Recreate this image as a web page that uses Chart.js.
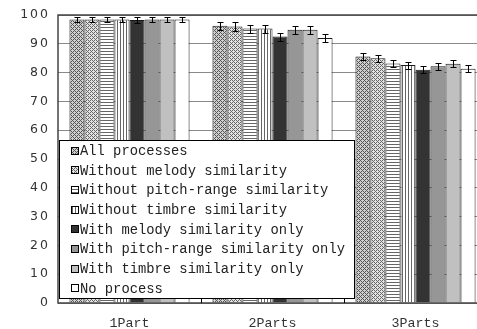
<!DOCTYPE html>
<html>
<head>
<meta charset="utf-8">
<script src="https://cdn.jsdelivr.net/npm/chart.js@4"></script>
<style>
  html, body { margin: 0; padding: 0; background: #fff; overflow: hidden; width: 477px; height: 329px; }
  #wrap { width: 487px; height: 329px; }
  canvas { display: block; }
</style>
</head>
<body>
<div id="wrap"><canvas id="chart" width="487" height="329"></canvas></div>
<script>
// data
const categories = ['1Part', '2Parts', '3Parts'];
const seriesNames = [
  'All processes',
  'Without melody similarity',
  'Without pitch-range similarity',
  'Without timbre similarity',
  'With melody similarity only',
  'With pitch-range similarity only',
  'With timbre similarity only',
  'No process'
];
const allProcesses      = [98.4, 96.3, 85.6];
const withoutMelody     = [98.4, 96.0, 85.0];
const withoutPitchRange = [98.4, 95.3, 83.2];
const withoutTimbre     = [98.4, 95.3, 82.6];
const melodyOnly        = [98.3, 92.5, 81.0];
const pitchRangeOnly    = [98.4, 94.9, 82.2];
const timbreOnly        = [98.4, 94.9, 83.1];
const noProcess         = [98.4, 92.0, 81.3];
const errorMargins      = [1.0, 1.4, 1.2]; // per category
const yTicks = [0, 10, 20, 30, 40, 50, 60, 70, 80, 90, 100];

const seriesValues = [allProcesses, withoutMelody, withoutPitchRange, withoutTimbre,
                      melodyOnly, pitchRangeOnly, timbreOnly, noProcess];

// fill patterns, like the old office chart hatches
function makePattern(kind) {
  const c = document.createElement('canvas');
  const g = c.getContext('2d');
  let s = 4;
  if (kind === 'horiz' || kind === 'vert') s = 3;
  c.width = s; c.height = s;
  g.fillStyle = '#fff';
  g.fillRect(0, 0, s, s);
  if (kind === 'cross') {
    g.fillStyle = '#d0d0d0'; g.fillRect(0, 0, s, s);
    g.fillStyle = '#555';
    for (let x = 0; x < s; x++) for (let y = 0; y < s; y++) {
      if ((x + y) % 4 === 0 || (x - y + 4) % 4 === 0) g.fillRect(x, y, 1, 1);
    }
  } else if (kind === 'diag') {
    g.fillStyle = '#e4e4e4'; g.fillRect(0, 0, s, s);
    g.fillStyle = '#666';
    for (let x = 0; x < s; x++) for (let y = 0; y < s; y++) {
      if ((x - y + 8) % 4 === 0 || (x - y + 8) % 4 === 2 && y % 2 === 0) g.fillRect(x, y, 1, 1);
    }
  } else if (kind === 'horiz') {
    g.fillStyle = '#666'; g.fillRect(0, 0, s, 1);
  } else if (kind === 'vert') {
    g.fillStyle = '#666'; g.fillRect(0, 0, 1, s);
  }
  return g.createPattern(c, 'repeat');
}

const fills = [
  makePattern('cross'),
  makePattern('diag'),
  makePattern('horiz'),
  makePattern('vert'),
  '#333333',
  '#969696',
  '#c0c0c0',
  '#ffffff'
];

const extras = {
  id: 'extras',
  afterDatasetsDraw(chart) {
    const ctx = chart.ctx;
    const area = chart.chartArea;
    const xs = chart.scales.x, ys = chart.scales.y;
    ctx.save();

    // error bars
    ctx.strokeStyle = '#000';
    ctx.lineWidth = 1;
    chart.data.datasets.forEach((ds, di) => {
      const meta = chart.getDatasetMeta(di);
      meta.data.forEach((bar, i) => {
        const v = ds.data[i], e = errorMargins[i];
        const x = Math.round(bar.x) + 0.5;
        const y1 = Math.round(ys.getPixelForValue(v + e)) + 0.5;
        const y2 = Math.round(ys.getPixelForValue(v - e)) + 0.5;
        ctx.beginPath();
        ctx.moveTo(x, y1); ctx.lineTo(x, y2);
        ctx.moveTo(x - 3, y1); ctx.lineTo(x + 3, y1);
        ctx.moveTo(x - 3, y2); ctx.lineTo(x + 3, y2);
        ctx.stroke();
      });
    });

    // frame
    ctx.strokeStyle = '#444';
    ctx.lineWidth = 1.5;
    ctx.strokeRect(area.left, area.top, area.right - area.left, area.bottom - area.top);

    // category boundary ticks (pointing up)
    ctx.lineWidth = 1;
    ctx.strokeStyle = '#000';
    const half = (xs.getPixelForValue(1) - xs.getPixelForValue(0)) / 2;
    for (let i = 0; i < categories.length - 1; i++) {
      const bx = Math.round(xs.getPixelForValue(i) + half) + 0.5;
      ctx.beginPath();
      ctx.moveTo(bx, area.bottom); ctx.lineTo(bx, area.bottom - 4);
      ctx.stroke();
    }

    // legend box inside the plot
    const lx = area.left + 1, ly = 140, lw = 295, lh = 158;
    ctx.fillStyle = '#fff';
    ctx.fillRect(lx, ly, lw, lh);
    ctx.strokeStyle = '#000';
    ctx.lineWidth = 1;
    ctx.strokeRect(lx + 0.5, ly + 0.5, lw, lh);
    ctx.font = "13.8px 'Liberation Mono'";
    ctx.textBaseline = 'middle';
    ctx.textAlign = 'left';
    seriesNames.forEach((name, i) => {
      const cy = 150.5 + i * 19.67;
      const bx = lx + 12, by = Math.round(cy - 4);
      ctx.fillStyle = fills[i];
      ctx.fillRect(bx, by, 8, 8);
      ctx.strokeStyle = '#000';
      ctx.strokeRect(bx + 0.5, by + 0.5, 7, 7);
      ctx.fillStyle = '#222';
      ctx.fillText(name, lx + 21, cy + 1);
    });

    ctx.restore();
  },
  afterDraw(chart) {
    // y tick labels, spaced out like the original
    const ctx = chart.ctx;
    const ys = chart.scales.y;
    ctx.save();
    ctx.font = "12.5px 'DejaVu Sans'";
    ctx.letterSpacing = '2px';
    ctx.fillStyle = '#333';
    ctx.textAlign = 'right';
    ctx.textBaseline = 'middle';
    ys.ticks.forEach(t => {
      ctx.fillText(String(t.value), 50, ys.getPixelForValue(t.value));
    });
    ctx.restore();
  }
};

new Chart(document.getElementById('chart'), {
  type: 'bar',
  data: {
    labels: categories,
    datasets: seriesNames.map((name, i) => ({
      label: name,
      data: seriesValues[i],
      backgroundColor: fills[i],
      borderColor: '#1a1a1a',
      borderWidth: 1,
      barPercentage: 1,
      categoryPercentage: 0.84
    }))
  },
  options: {
    responsive: false,
    animation: false,
    devicePixelRatio: 1,
    layout: { padding: { top: 15, left: 0, right: 0, bottom: 0 } },
    plugins: {
      legend: { display: false },
      tooltip: { enabled: false }
    },
    scales: {
      x: {
        grid: { display: false, drawTicks: false },
        border: { display: false },
        ticks: {
          color: '#333',
          font: { family: 'Liberation Mono', size: 13.3 },
          padding: 12,
          maxRotation: 0
        },
        afterFit: s => { s.height = 26; }
      },
      y: {
        min: 0,
        max: 100,
        afterBuildTicks: s => { s.ticks = yTicks.map(v => ({ value: v })); },
        grid: { color: '#8a8a8a', lineWidth: 1, drawTicks: false },
        border: { display: false },
        ticks: { display: false },
        afterFit: s => { s.width = 58; }
      }
    }
  },
  plugins: [extras]
});
</script>
</body>
</html>
